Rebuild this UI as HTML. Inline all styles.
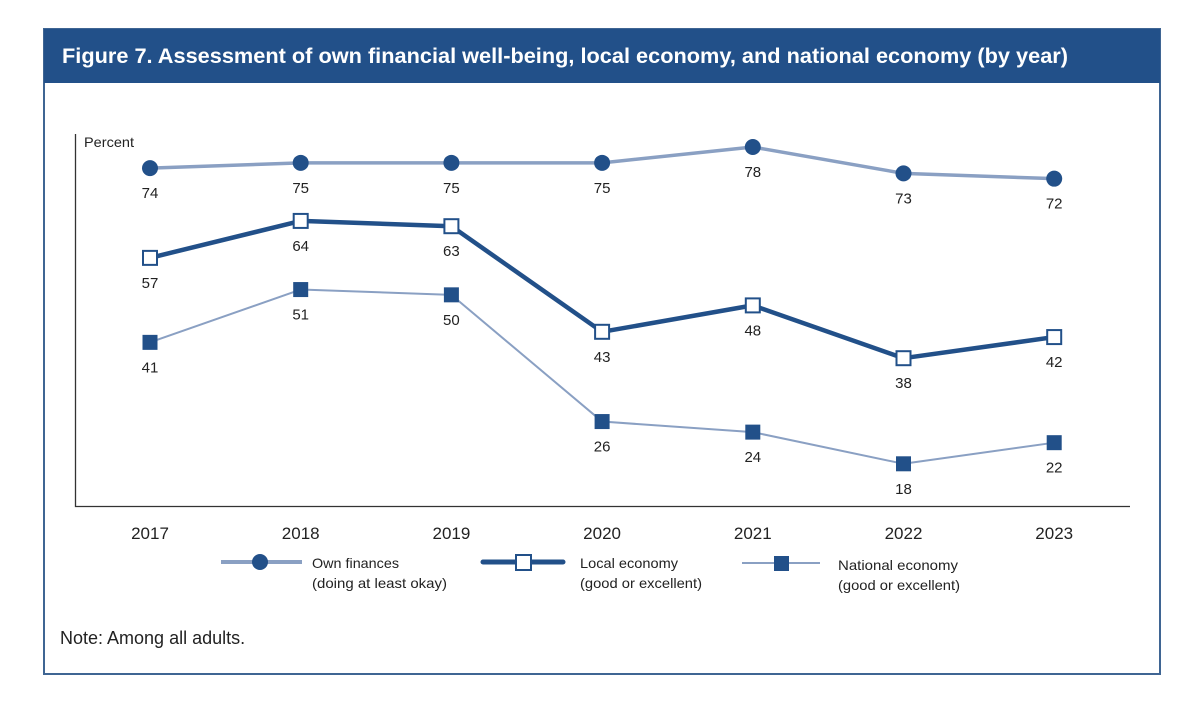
<!DOCTYPE html>
<html><head><meta charset="utf-8"><style>
html,body{margin:0;padding:0;background:#fff;}
svg{display:block;font-family:"Liberation Sans",sans-serif;}
</style></head><body>
<svg id="chart" width="1200" height="723" viewBox="0 0 1200 723">
<rect x="44" y="29" width="1116" height="645" fill="#fff" stroke="#3f6593" stroke-width="2"/>
<rect x="44" y="29" width="1116" height="54" fill="#225089"/>
<text x="62" y="63" fill="#fff" font-size="21" font-weight="bold" textLength="1006" lengthAdjust="spacingAndGlyphs">Figure 7. Assessment of own financial well-being, local economy, and national economy (by year)</text>
<path d="M75.5 134 V506.5 H1130" fill="none" stroke="#333" stroke-width="1.3"/>
<text x="84" y="147" font-size="14" fill="#222" textLength="50" lengthAdjust="spacingAndGlyphs">Percent</text>
<g id="xlabels"></g>
<g id="series"></g>
<g id="legend">
<line x1="221" y1="562" x2="302" y2="562" stroke="#8aa0c3" stroke-width="4"/>
<circle cx="260" cy="562" r="8" fill="#225089"/>
<text x="312" y="568" font-size="14" fill="#222" textLength="87" lengthAdjust="spacingAndGlyphs">Own finances</text>
<text x="312" y="588" font-size="14" fill="#222" textLength="135" lengthAdjust="spacingAndGlyphs">(doing at least okay)</text>
<line x1="483" y1="562" x2="563" y2="562" stroke="#225089" stroke-width="5" stroke-linecap="round"/>
<rect x="516" y="555" width="15" height="15" fill="#fff" stroke="#225089" stroke-width="2"/>
<text x="580" y="568" font-size="14" fill="#222" textLength="98" lengthAdjust="spacingAndGlyphs">Local economy</text>
<text x="580" y="588" font-size="14" fill="#222" textLength="122" lengthAdjust="spacingAndGlyphs">(good or excellent)</text>
<line x1="742" y1="563" x2="820" y2="563" stroke="#8aa0c3" stroke-width="2"/>
<rect x="774" y="556" width="15" height="15" fill="#225089"/>
<text x="838" y="570" font-size="14" fill="#222" textLength="120" lengthAdjust="spacingAndGlyphs">National economy</text>
<text x="838" y="590" font-size="14" fill="#222" textLength="122" lengthAdjust="spacingAndGlyphs">(good or excellent)</text>
</g>
<text x="60" y="644" font-size="18" fill="#222">Note: Among all adults.</text>
</svg>
<script>
const years = ["2017","2018","2019","2020","2021","2022","2023"];
const ownFinances = [74,75,75,75,78,73,72];
const localEconomy = [57,64,63,43,48,38,42];
const nationalEconomy = [41,51,50,26,24,18,22];

const NS = "http://www.w3.org/2000/svg";
function xScale(i){ return 150 + i * 150.7; }
function yScale(v){ return 147 + (78 - v) * 5.28; }
function mk(tag, attrs){ const e = document.createElementNS(NS, tag); for (const k in attrs) e.setAttribute(k, attrs[k]); return e; }

const xg = document.getElementById("xlabels");
years.forEach((y, i) => {
  const t = mk("text", {x: xScale(i), y: 539, "font-size": 17, fill: "#222", "text-anchor": "middle"});
  t.textContent = y;
  
  
  xg.appendChild(t);
});

const sg = document.getElementById("series");
const defs = [
  {vals: ownFinances, color: "#8aa0c3", w: 3.5, marker: "circle", name: "own-finances"},
  {vals: localEconomy, color: "#225089", w: 4.5, marker: "open", name: "local-economy"},
  {vals: nationalEconomy, color: "#8aa0c3", w: 2, marker: "square", name: "national-economy"}
];
defs.forEach(d => {
  const pts = d.vals.map((v, i) => xScale(i) + "," + yScale(v)).join(" ");
  const pl = mk("polyline", {points: pts, fill: "none", stroke: d.color, "stroke-width": d.w, "stroke-linejoin": "round"});
  
  
  sg.appendChild(pl);
  d.vals.forEach((v, i) => {
    const cx = xScale(i), cy = yScale(v);
    let m;
    if (d.marker === "circle") m = mk("circle", {cx: cx, cy: cy, r: 8, fill: "#225089"});
    else if (d.marker === "open") m = mk("rect", {x: cx - 7, y: cy - 7, width: 14, height: 14, fill: "#fff", stroke: "#225089", "stroke-width": 2});
    else m = mk("rect", {x: cx - 7.5, y: cy - 7.5, width: 15, height: 15, fill: "#225089"});
    
    
    sg.appendChild(m);
    const t = mk("text", {x: cx, y: cy + 30, "font-size": 15, fill: "#222", "text-anchor": "middle"});
    t.textContent = v;
    
    
    sg.appendChild(t);
  });
});
</script>
</body></html>
